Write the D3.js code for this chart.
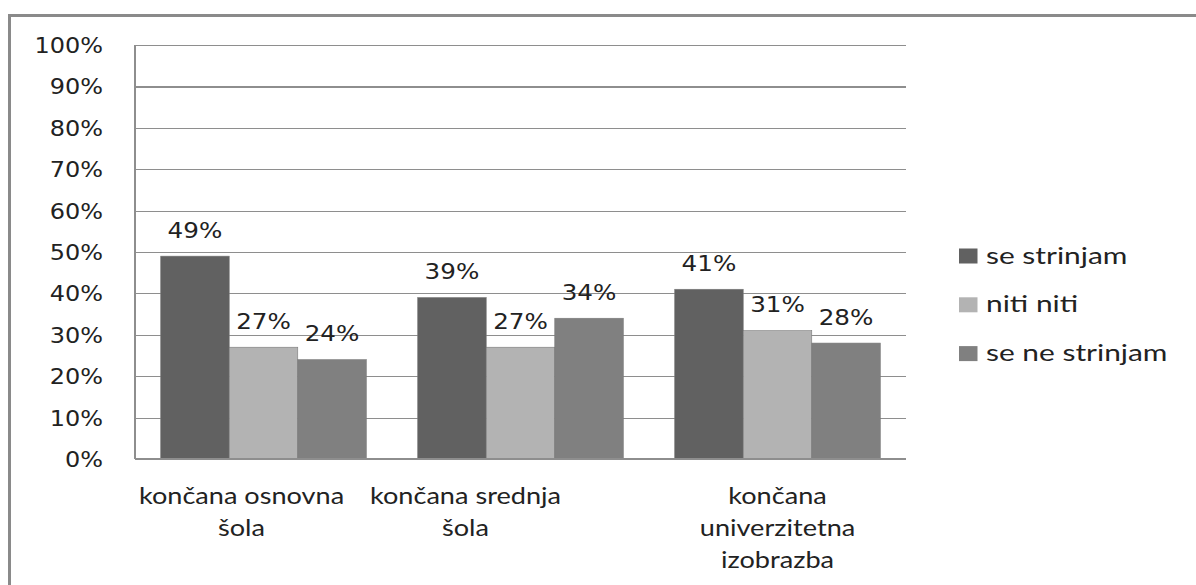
<!DOCTYPE html>
<html>
<head>
<meta charset="utf-8">
<script src="https://cdn.jsdelivr.net/npm/d3@7"></script>
<style>
  html, body { margin: 0; padding: 0; background: #fff; }
  svg { display: block; }
</style>
</head>
<body>
<div id="chart"></div>
<script>
// ---- data ----
const categories = [
  ["končana osnovna", "šola"],
  ["končana srednja", "šola"],
  ["končana", "univerzitetna", "izobrazba"]
];
const seriesNames = ["se strinjam", "niti niti", "se ne strinjam"];
const seSrinjam = [0.49, 0.39, 0.41];
const nitiNiti = [0.27, 0.27, 0.31];
const seNeStrinjam = [0.24, 0.34, 0.28];
const tickValues = [0, 0.1, 0.2, 0.3, 0.4, 0.5, 0.6, 0.7, 0.8, 0.9, 1.0];

// ---- layout / style ----
const W = 1196, H = 585;
const plot = { left: 135, right: 906, top: 45, bottom: 459 };
const colors = ["#616161", "#b3b3b3", "#808080"];
const labelDx = [-22, -55, 0];
const sxNum = 1.09, sxLab = 1.12, sxCat = 1.13, sxLeg = 1.3;

const seriesValues = [seSrinjam, nitiNiti, seNeStrinjam];
const catKeys = categories.map((c, i) => "c" + i);

const svg = d3.select("#chart").append("svg")
  .attr("width", W).attr("height", H);

// outer frame (top and left visible)
svg.append("line").attr("x1", 9.5).attr("x2", W).attr("y1", 15.5).attr("y2", 15.5)
  .attr("stroke", "#8a8a8a").attr("stroke-width", 3);
svg.append("line").attr("x1", 9.5).attr("x2", 9.5).attr("y1", 14).attr("y2", H)
  .attr("stroke", "#8a8a8a").attr("stroke-width", 3);

const y = d3.scaleLinear().domain([0, 1]).range([plot.bottom, plot.top]);
const x0 = d3.scaleBand().domain(catKeys).range([plot.left, plot.right])
  .paddingInner(0.2).paddingOuter(0.1);
const x1 = d3.scaleBand().domain(seriesNames).range([0, x0.bandwidth()]).padding(0);

// gridlines
const yAxis = d3.axisLeft(y).tickValues(tickValues)
  .tickSize(-(plot.right - plot.left)).tickFormat("");
const gGrid = svg.append("g").attr("transform", `translate(${plot.left},0)`).call(yAxis);
gGrid.select(".domain").remove();
gGrid.selectAll(".tick line").attr("stroke", "#8e8e8e").attr("stroke-width", 1.2)
  .attr("shape-rendering", "crispEdges");

// tick labels
svg.append("g").selectAll("text").data(tickValues).join("text")
  .attr("transform", d => `translate(103,${y(d)}) scale(${sxNum},1)`)
  .attr("text-anchor", "end").attr("dy", "0.36em")
  .attr("font-family", "DejaVu Sans, Verdana, sans-serif").attr("font-size", 22)
  .attr("fill", "#222")
  .text(d => d3.format(".0%")(d));

// bars
const groups = svg.append("g").selectAll("g").data(catKeys).join("g")
  .attr("transform", d => `translate(${x0(d)},0)`);
groups.selectAll("rect")
  .data((d, ci) => seriesNames.map((s, si) => ({ s, si, v: seriesValues[si][ci] })))
  .join("rect")
  .attr("x", d => x1(d.s)).attr("width", x1.bandwidth())
  .attr("y", d => y(d.v)).attr("height", d => y(0) - y(d.v))
  .attr("fill", d => colors[d.si])
  .attr("stroke", "#7a7a7a").attr("stroke-width", 0.6);

// data labels
groups.selectAll("text")
  .data((d, ci) => seriesNames.map((s, si) => ({ s, si, v: seriesValues[si][ci] })))
  .join("text")
  .attr("transform", d => `translate(${x1(d.s) + x1.bandwidth() / 2},${y(d.v) - 18.5}) scale(${sxLab},1)`)
  .attr("text-anchor", "middle")
  .attr("font-family", "DejaVu Sans, Verdana, sans-serif").attr("font-size", 22)
  .attr("fill", "#222")
  .text(d => d3.format(".0%")(d.v));

// axes lines
svg.append("line").attr("x1", plot.left).attr("x2", plot.left).attr("y1", plot.top).attr("y2", plot.bottom)
  .attr("stroke", "#8e8e8e").attr("stroke-width", 1.5).attr("shape-rendering", "crispEdges");
svg.append("line").attr("x1", plot.left).attr("x2", plot.right).attr("y1", plot.bottom).attr("y2", plot.bottom)
  .attr("stroke", "#8e8e8e").attr("stroke-width", 1.5).attr("shape-rendering", "crispEdges");

// category labels
const catG = svg.append("g").selectAll("g").data(categories).join("g")
  .attr("transform", (d, i) => `translate(${x0(catKeys[i]) + x0.bandwidth() / 2 + labelDx[i]},0)`);
catG.selectAll("text").data(d => d).join("text")
  .attr("transform", (d, j) => `translate(0,${503.5 + j * 32.4}) scale(${sxCat},1)`)
  .attr("text-anchor", "middle")
  .attr("font-family", "Lato, 'Open Sans', sans-serif").attr("font-size", 24)
  .attr("fill", "#222")
  .text(d => d);

// legend
const leg = svg.append("g").selectAll("g").data(seriesNames).join("g")
  .attr("transform", (d, i) => `translate(959,${256 + i * 48.8})`);
leg.append("rect").attr("x", 0).attr("y", -7.5).attr("width", 18.5).attr("height", 15)
  .attr("fill", (d, i) => colors[i]);
leg.append("text")
  .attr("transform", `translate(27,7.5) scale(${sxLeg},1)`)
  .attr("font-family", "Lato, 'Open Sans', sans-serif").attr("font-size", 23)
  .attr("fill", "#222")
  .text(d => d);
</script>
</body>
</html>
